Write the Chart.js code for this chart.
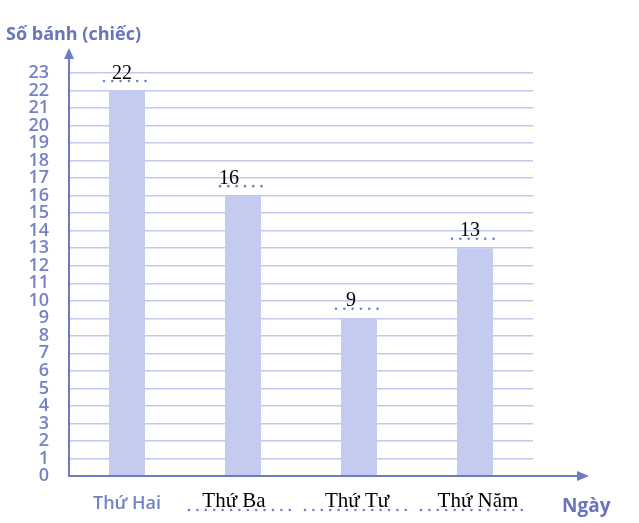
<!DOCTYPE html>
<html>
<head>
<meta charset="utf-8">
<script src="https://cdn.jsdelivr.net/npm/chart.js@4"></script>
<style>
html,body{margin:0;padding:0;background:#fff;}
#wrap{width:639px;height:523px;position:relative;}
</style>
</head>
<body>
<div id="wrap"><canvas id="c" width="639" height="523"></canvas></div>
<script>
// ---- data ----
const categories = ["Thứ Hai", "Thứ Ba", "Thứ Tư", "Thứ Năm"];
const cakes = [22, 16, 9, 13];
const yTicksMax = 23;
const yTitle = "Số bánh (chiếc)";
const xTitle = "Ngày";

// ---- style ----
const axisColor = "#6e7bc3";
const tickColor = "#7682c8";
const gridColor = "#c3c9ec";
const barColor = "#c4cbf1";
const dotColor = "#6e7ec8";
const valueLabelDx = [-5, -14, -8, -5];
const catLabelDx = [0, -9, -2, 3];

function dots(ctx, x1, x2, y, step) {
  ctx.save();
  ctx.fillStyle = dotColor;
  for (let x = x1; x <= x2 + 0.1; x += step) {
    ctx.beginPath();
    ctx.arc(x, y, 1.3, 0, Math.PI * 2);
    ctx.fill();
  }
  ctx.restore();
}

const decor = {
  id: "decor",
  afterDatasetsDraw(chart) {
    const ctx = chart.ctx;
    const ca = chart.chartArea;
    const xs = chart.scales.x;
    const meta = chart.getDatasetMeta(0);
    ctx.save();
    // axes with arrows
    ctx.strokeStyle = axisColor;
    ctx.fillStyle = axisColor;
    ctx.lineWidth = 2;
    const xTip = ca.right + 56;
    const yTip = ca.top - 25;
    ctx.beginPath();
    ctx.moveTo(ca.left, ca.bottom);
    ctx.lineTo(xTip - 8, ca.bottom);
    ctx.moveTo(ca.left, ca.bottom + 1);
    ctx.lineTo(ca.left, yTip + 8);
    ctx.stroke();
    ctx.beginPath();
    ctx.moveTo(xTip, ca.bottom);
    ctx.lineTo(xTip - 12, ca.bottom - 5);
    ctx.lineTo(xTip - 12, ca.bottom + 5);
    ctx.closePath();
    ctx.fill();
    ctx.beginPath();
    ctx.moveTo(ca.left, yTip);
    ctx.lineTo(ca.left - 5, yTip + 11);
    ctx.lineTo(ca.left + 5, yTip + 11);
    ctx.closePath();
    ctx.fill();

    // axis titles
    ctx.fillStyle = "#6874bd";
    ctx.font = "bold 18px 'Open Sans'";
    ctx.textAlign = "left";
    ctx.textBaseline = "middle";
    ctx.fillText(yTitle, 6, 35);
    ctx.font = "bold 19px 'Open Sans'";
    ctx.fillText(xTitle, xTip - 27, ca.bottom + 31);

    // value labels with dotted lines
    meta.data.forEach((bar, i) => {
      const w = bar.width;
      dots(ctx, bar.x - w / 2 - 5, bar.x + w / 2 + 8, bar.y - 9.5, 8.3);
      ctx.fillStyle = "#000";
      ctx.font = "20px 'Liberation Serif'";
      ctx.textAlign = "center";
      ctx.textBaseline = "alphabetic";
      ctx.fillText(String(cakes[i]), bar.x + valueLabelDx[i], bar.y - 12);
    });

    // category labels
    categories.forEach((lab, i) => {
      const x = xs.getPixelForValue(i);
      if (i === 0) {
        ctx.fillStyle = tickColor;
        ctx.font = "600 18px 'Open Sans'";
        ctx.textAlign = "center";
        ctx.textBaseline = "alphabetic";
        ctx.fillText(lab, x + catLabelDx[i], ca.bottom + 33);
      } else {
        dots(ctx, x - 54, x + 47, ca.bottom + 34, 8.4);
        ctx.fillStyle = "#000";
        ctx.font = "21px 'Liberation Serif'";
        ctx.textAlign = "center";
        ctx.textBaseline = "alphabetic";
        ctx.fillText(lab, x + catLabelDx[i], ca.bottom + 31);
      }
    });
    ctx.restore();
  }
};

new Chart(document.getElementById("c"), {
  type: "bar",
  data: {
    labels: categories,
    datasets: [{
      data: cakes,
      backgroundColor: barColor,
      borderWidth: 0,
      barPercentage: 0.31,
      categoryPercentage: 1
    }]
  },
  options: {
    responsive: false,
    animation: false,
    devicePixelRatio: 1,
    layout: { padding: { top: 73, right: 106, left: 0, bottom: 0 } },
    plugins: { legend: { display: false }, tooltip: { enabled: false } },
    scales: {
      x: {
        grid: { display: false },
        border: { display: false },
        ticks: { display: false },
        afterFit(s) { s.height = 47; }
      },
      y: {
        min: 0,
        max: yTicksMax,
        ticks: {
          stepSize: 1,
          autoSkip: false,
          color: tickColor,
          padding: 20,
          font: { family: "'Open Sans'", size: 18, weight: "600" }
        },
        grid: { color: gridColor, lineWidth: 1.5, drawTicks: false },
        border: { display: false },
        afterFit(s) { s.width = 69; }
      }
    }
  },
  plugins: [decor]
});
</script>
</body>
</html>
